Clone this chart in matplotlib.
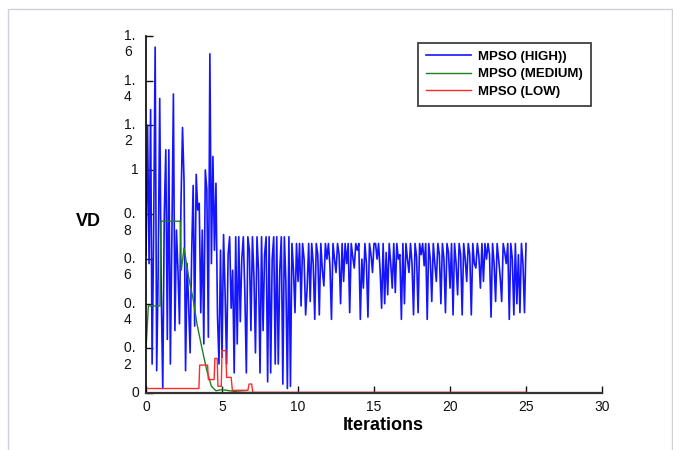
import numpy as np
import matplotlib
matplotlib.use('Agg')
from matplotlib import pyplot as plt
from matplotlib.patches import Rectangle

plt.rcParams['font.family'] = ['Liberation Sans', 'DejaVu Sans']

# VD per iteration (one value every 0.1 iteration, 0 .. 25)
vd_high = [
    0.62, 1.20, 0.58, 1.27, 0.13, 0.72, 1.55, 0.10, 0.55, 1.32,
    0.45, 0.02, 0.80, 1.09, 0.24, 1.09, 0.13, 0.70, 1.34, 0.28,
    0.73, 0.55, 0.31, 0.85, 1.19, 0.95, 0.10, 0.58, 0.40, 0.18,
    0.62, 0.93, 0.30, 0.98, 0.82, 0.85, 0.36, 0.73, 0.22, 1.00,
    0.91, 0.25, 1.52, 0.58, 1.06, 0.64, 0.94, 0.35, 0.13, 0.64,
    0.16, 0.71, 0.45, 0.13, 0.62, 0.70, 0.38, 0.55, 0.09, 0.70,
    0.22, 0.70, 0.32, 0.60, 0.70, 0.45, 0.09, 0.70, 0.64, 0.28,
    0.70, 0.52, 0.18, 0.70, 0.55, 0.09, 0.70, 0.28, 0.62, 0.70,
    0.05, 0.70, 0.09, 0.60, 0.70, 0.13, 0.70, 0.13, 0.55, 0.70,
    0.04, 0.70, 0.50, 0.02, 0.70, 0.03, 0.67, 0.55, 0.36, 0.67,
    0.50, 0.67, 0.39, 0.67, 0.60, 0.35, 0.47, 0.67, 0.41, 0.67,
    0.58, 0.33, 0.67, 0.62, 0.35, 0.67, 0.55, 0.48, 0.67, 0.60,
    0.67, 0.57, 0.33, 0.67, 0.60, 0.54, 0.67, 0.62, 0.40, 0.67,
    0.50, 0.67, 0.58, 0.67, 0.36, 0.67, 0.61, 0.56, 0.67, 0.64,
    0.67, 0.33, 0.60, 0.47, 0.67, 0.58, 0.34, 0.67, 0.62, 0.54,
    0.67, 0.67, 0.60, 0.67, 0.55, 0.38, 0.67, 0.40, 0.63, 0.44,
    0.67, 0.58, 0.47, 0.67, 0.45, 0.67, 0.60, 0.62, 0.33, 0.67,
    0.40, 0.67, 0.60, 0.54, 0.67, 0.58, 0.35, 0.67, 0.61, 0.36,
    0.67, 0.62, 0.67, 0.57, 0.67, 0.33, 0.67, 0.60, 0.41, 0.67,
    0.58, 0.50, 0.67, 0.62, 0.40, 0.67, 0.60, 0.36, 0.67, 0.63,
    0.47, 0.67, 0.35, 0.67, 0.58, 0.44, 0.67, 0.62, 0.35, 0.67,
    0.60, 0.50, 0.67, 0.62, 0.35, 0.67, 0.58, 0.56, 0.67, 0.61,
    0.47, 0.67, 0.50, 0.67, 0.60, 0.67, 0.62, 0.34, 0.67, 0.58,
    0.41, 0.67, 0.60, 0.52, 0.41, 0.67, 0.63, 0.58, 0.67, 0.33,
    0.67, 0.60, 0.35, 0.67, 0.40, 0.62, 0.36, 0.67, 0.58, 0.36,
    0.67,
]
iter_high = np.arange(len(vd_high)) * 0.1

iter_medium = [0, 0.15, 0.92, 0.98, 2.25, 2.32, 2.5, 2.8, 3.1, 3.35, 3.65, 4.0, 4.3, 4.6,
               5.0, 5.5, 6.0, 6.5, 8.0, 25.0]
vd_medium = [0.2, 0.39, 0.39, 0.77, 0.77, 0.55, 0.65, 0.52, 0.42, 0.31, 0.21, 0.10, 0.03, 0.01,
             0.015, 0.01, 0.005, 0.003, 0.0, 0.0]

iter_low = [0, 3.48, 3.53, 4.05, 4.1, 4.48, 4.53, 4.68, 4.73, 4.95, 5.0, 5.25, 5.3, 5.6,
            5.68, 6.7, 6.78, 6.95, 7.02, 25.0]
vd_low = [0.02, 0.02, 0.125, 0.125, 0.06, 0.06, 0.155, 0.155, 0.03, 0.03, 0.19, 0.19, 0.07, 0.07,
          0.012, 0.012, 0.04, 0.04, 0.003, 0.003]

series_names = ['MPSO (HIGH))', 'MPSO (MEDIUM)', 'MPSO (LOW)']
xticks = [0, 5, 10, 15, 20, 25, 30]
yticks = [0, 0.2, 0.4, 0.6, 0.8, 1.0, 1.2, 1.4, 1.6]
ytick_labels = ['0', '0.\n2', '0.\n4', '0.\n6', '0.\n8', '1', '1.\n2', '1.\n4', '1.\n6']

fig = plt.figure(figsize=(6.73, 4.5), dpi=100)
ax = fig.add_axes([0.217, 0.1267, 0.6775, 0.7933])

ax.plot(iter_high, vd_high, color='#1414ff', lw=1.2, label=series_names[0])
ax.plot(iter_medium, vd_medium, color='#1f801f', lw=1.0, label=series_names[1])
ax.plot(iter_low, vd_low, color='#ff2a2a', lw=1.0, label=series_names[2])

ax.set_xlim(0, 30)
ax.set_ylim(0, 1.6)
ax.set_xticks(xticks)
ax.set_xticklabels([str(t) for t in xticks])
# labels broken over two lines like in the original; blank first line keeps "0." on the tick
ax.set_yticks(yticks)
ax.set_yticklabels([(' \n' + s.replace('\n', ' \n')) if '\n' in s else s for s in ytick_labels])
for lab in ax.get_yticklabels():
    lab.set_verticalalignment('center')
    lab.set_multialignment('left')

ax.tick_params(direction='in', length=5, width=1, labelsize=10, pad=5, colors='#111111')
ax.spines['top'].set_visible(False)
ax.spines['right'].set_visible(False)
ax.spines['left'].set_linewidth(1.2)
ax.spines['bottom'].set_linewidth(1.6)
ax.spines['bottom'].set_color('#333333')

ax.set_xlabel('Iterations', fontsize=13, fontweight='bold', va='center')
ax.xaxis.set_label_coords(0.52, -0.091)
ax.set_ylabel('VD', fontsize=13, fontweight='bold', rotation=0, va='center', ha='center')
ax.yaxis.set_label_coords(-0.127, 0.479)

leg = ax.legend(loc='upper left', bbox_to_anchor=(418 / 673, 1 - 42.7 / 450),
                bbox_transform=fig.transFigure, borderaxespad=0, fancybox=False,
                framealpha=1, edgecolor='#404040', handlelength=3.4, handletextpad=0.55,
                borderpad=0.6, labelspacing=0.4, prop={'size': 9.5, 'weight': 'bold'})
leg.get_frame().set_linewidth(1.3)

# thin frame round the whole picture
fig.add_artist(Rectangle((8 / 673, -0.1), 664 / 673, 1.1 - 9.5 / 450, transform=fig.transFigure,
                         fill=False, ec='#cfcfdc', lw=1.0))

fig.savefig('out.png', dpi=100)
